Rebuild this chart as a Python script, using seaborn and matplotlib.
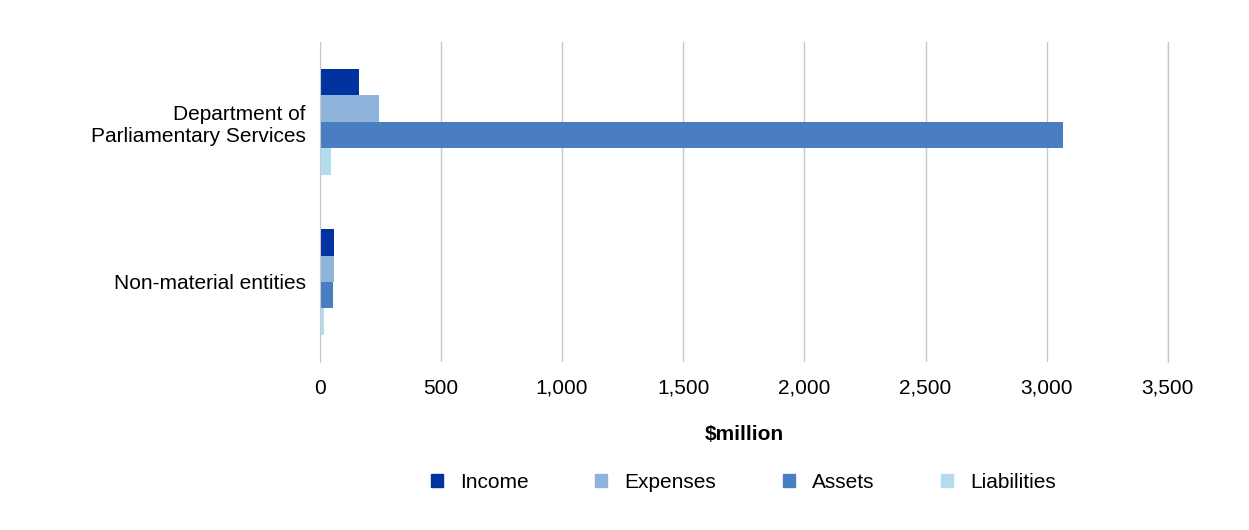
import matplotlib
matplotlib.use("Agg")
import matplotlib.pyplot as plt
import seaborn as sns
import pandas as pd
from matplotlib.patches import Patch

categories = ["Department of\nParliamentary Services", "Non-material entities"]
series = ["Income", "Expenses", "Assets", "Liabilities"]
income = [161, 58]
expenses = [243, 58]
assets = [3066, 54]
liabilities = [45, 17]
colors = ["#0033A0", "#8EB4DC", "#4A7EC2", "#B3DCEE"]

rows = []
for s, vals in zip(series, [income, expenses, assets, liabilities]):
    for c, v in zip(categories, vals):
        rows.append({"cat": c, "series": s, "value": v})
df = pd.DataFrame(rows)

plt.rcParams["font.family"] = "Liberation Sans"
fig = plt.figure(figsize=(12.49, 5.30), dpi=100)
ax = fig.add_axes([0.256, 0.317, 0.679, 0.604])
sns.barplot(data=df, y="cat", x="value", hue="series", hue_order=series,
            palette=colors, orient="h", width=0.52 * 1.27, saturation=1, ax=ax, legend=False)
ax.set_xlim(0, 3500)
ax.set_xticks(range(0, 3501, 500))
ax.set_xticklabels([f"{v:,}" for v in range(0, 3501, 500)], fontsize=15)
ax.tick_params(axis="y", labelsize=15, length=0, pad=10)
ax.tick_params(axis="x", length=0, pad=12)
ax.grid(axis="x", color="#C8C8C8", linewidth=1)
ax.axvline(3500, color="#C8C8C8", linewidth=1, clip_on=False, zorder=0)
ax.set_axisbelow(True)
for s in ["top", "right", "bottom"]:
    ax.spines[s].set_visible(False)
ax.spines["left"].set_color("#C8C8C8")
ax.set_ylabel("")
ax.set_xlabel("$million", fontsize=15, fontweight="bold", labelpad=20)
handles = [Patch(color=c, label=s) for c, s in zip(colors, series)]
fig.legend(handles=handles, loc="center", bbox_to_anchor=(0.595, 0.09), ncol=4,
           frameon=False, fontsize=15, handlelength=0.6, handleheight=0.6,
           columnspacing=3.2, handletextpad=0.8)
fig.savefig("out.png", dpi=100)
